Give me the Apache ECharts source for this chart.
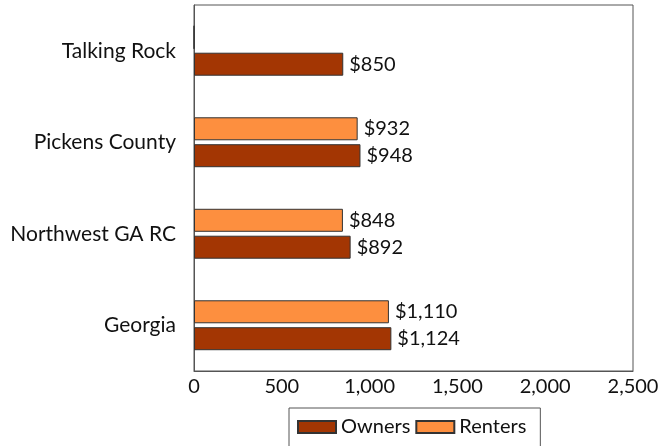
<!DOCTYPE html>
<html>
<head>
<meta charset="utf-8">
<script src="https://cdn.jsdelivr.net/npm/echarts@6/dist/echarts.min.js"></script>
<style>
  html, body { margin: 0; padding: 0; background: #fff; }
  #chart { width: 664px; height: 446px; }
</style>
</head>
<body>
<div id="chart"></div>
<script>
// categories bottom -> top
const categories = ["Georgia", "Northwest GA RC", "Pickens County", "Talking Rock"];
const owners = [1124, 892, 948, 850];
const renters = [1110, 848, 932, 0];
const xTicks = [0, 500, 1000, 1500, 2000, 2500];

const fontFam = "Lato, 'DejaVu Sans', sans-serif";

function money(v) {
  if (!v) return "";
  return "$" + v.toLocaleString("en-US");
}

let myChart = echarts.init(document.getElementById("chart"));
myChart.setOption({
  animation: false,
  textStyle: { fontFamily: fontFam },
  grid: {
    left: 194, right: 31, top: 5, bottom: 75,
    show: true,
    borderColor: "#555",
    borderWidth: 1
  },
  xAxis: {
    type: "value",
    min: xTicks[0],
    max: xTicks[xTicks.length - 1],
    interval: 500,
    splitLine: { show: false },
    axisLine: { show: true, lineStyle: { color: "#555" } },
    axisTick: { show: false },
    axisLabel: {
      color: "#111",
      fontSize: 20,
      margin: 6,
      fontFamily: fontFam,
      formatter: v => v.toLocaleString("en-US")
    }
  },
  yAxis: {
    type: "category",
    data: categories,
    axisLine: { show: true, lineStyle: { color: "#555" } },
    axisTick: { show: false },
    axisLabel: { color: "#111", fontSize: 21, margin: 18, fontFamily: fontFam }
  },
  legend: {
    left: 289,
    top: 408,
    orient: "horizontal",
    icon: "rect",
    borderColor: "#555",
    borderWidth: 1,
    padding: [9, 14, 16, 8],
    itemWidth: 38,
    itemHeight: 12,
    itemGap: 5,
    textStyle: { color: "#111", fontSize: 20, fontFamily: fontFam },
    data: ["Owners", "Renters"]
  },
  series: [
    {
      name: "Renters",
      type: "bar",
      data: renters,
      barWidth: 23,
      barGap: "17%",
      itemStyle: { color: "#fd8f3f", borderColor: "#333", borderWidth: 1 },
      label: {
        show: true, position: "right", distance: 6,
        color: "#111", fontSize: 20, fontFamily: fontFam,
        formatter: p => money(p.value)
      }
    },
    {
      name: "Owners",
      type: "bar",
      data: owners,
      barWidth: 23,
      barGap: "17%",
      itemStyle: { color: "#a33603", borderColor: "#333", borderWidth: 1 },
      label: {
        show: true, position: "right", distance: 6,
        color: "#111", fontSize: 20, fontFamily: fontFam,
        formatter: p => money(p.value)
      }
    }
  ]
});
</script>
</body>
</html>
